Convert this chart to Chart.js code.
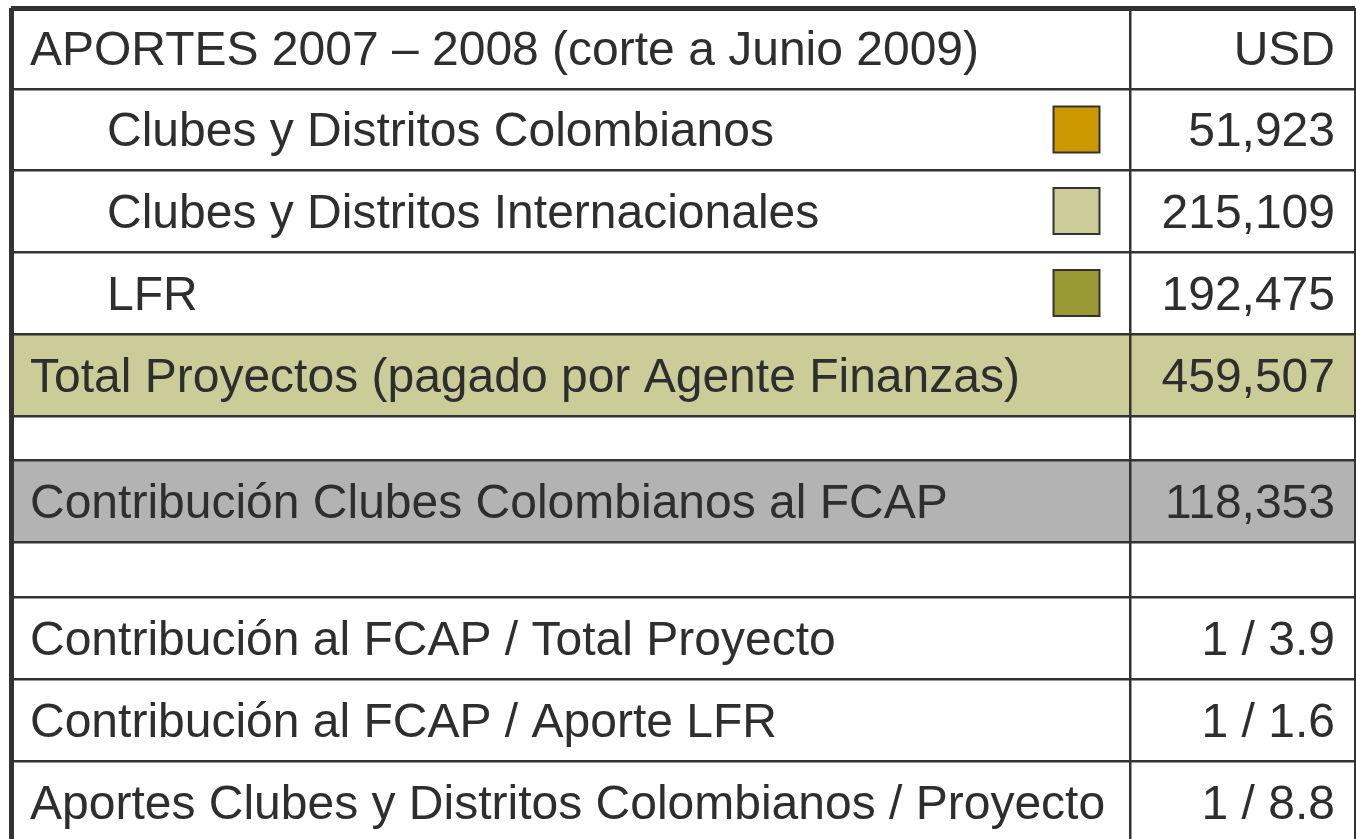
<!DOCTYPE html>
<html>
<head>
<meta charset="utf-8">
<script src="https://cdn.jsdelivr.net/npm/chart.js@4/dist/chart.umd.min.js"></script>
<style>
  html, body { margin: 0; padding: 0; background: #fff; }
  #wrap { width: 1356px; height: 839px; }
</style>
</head>
<body>
<div id="wrap"><canvas id="myChart" width="1356" height="839"></canvas></div>
<script>
// ---- data ----
const headerLabel = "APORTES 2007 \u2013 2008 (corte a Junio 2009)";
const headerUnit = "USD";
const sourceNames = [
  "Clubes y Distritos Colombianos",
  "Clubes y Distritos Internacionales",
  "LFR",
];
const sourceValues = [51923, 215109, 192475];
const totalLabel = "Total Proyectos (pagado por Agente Finanzas)";
const totalValue = 459507;
const fcapLabel = "Contribuci\u00f3n Clubes Colombianos al FCAP";
const fcapValue = 118353;
const ratioLabels = [
  "Contribuci\u00f3n al FCAP / Total Proyecto",
  "Contribuci\u00f3n al FCAP / Aporte LFR",
  "Aportes Clubes y Distritos Colombianos / Proyecto",
];
const ratioValues = [3.9, 1.6, 8.8];

// ---- styles ----
const sourceColors = ["#CC9900", "#CCCC99", "#999933"];
const textColor = "#2e2e2e";
const lineColor = "#333333";
const fontFamily = "'Liberation Sans', Arial, sans-serif";
const fontSize = 48;

const fmt = (v) => v.toLocaleString("en-US");

// table rows built from the arrays above
// kind: head | item | total | blank | fcap | ratio
const rows = [];
rows.push({ kind: "head", label: headerLabel, value: headerUnit, h: 81 });
sourceNames.forEach((name, i) => {
  rows.push({ kind: "item", label: name, value: fmt(sourceValues[i]), color: sourceColors[i], h: i === 0 ? 81 : 82 });
});
rows.push({ kind: "total", label: totalLabel, value: fmt(totalValue), fill: "#CCCC99", h: 82 });
rows.push({ kind: "blank", label: "", value: "", h: 44 });
rows.push({ kind: "fcap", label: fcapLabel, value: fmt(fcapValue), fill: "#B3B3B3", h: 82 });
rows.push({ kind: "blank", label: "", value: "", h: 55 });
ratioLabels.forEach((name, i) => {
  rows.push({ kind: "ratio", label: name, value: "1 / " + ratioValues[i].toFixed(1), h: 82 });
});

// row boundaries in y units
const bounds = [0];
rows.forEach((r) => bounds.push(bounds[bounds.length - 1] + r.h));
rows.forEach((r, i) => { r.y0 = bounds[i]; r.y1 = bounds[i + 1]; r.yc = (bounds[i] + bounds[i + 1]) / 2; });

const X_MAX = 1344;
const X_DIV = 1119;
const Y_MAX = 831;

const swatchPoints = rows
  .filter((r) => r.kind === "item")
  .map((r) => ({ x: 1065.5, y: r.yc, color: r.color }));

const tablePlugin = {
  id: "tablePlugin",
  beforeDraw(chart) {
    const { ctx, scales: { x, y } } = chart;
    ctx.save();
    rows.forEach((r) => {
      if (!r.fill) return;
      const top = y.getPixelForValue(r.y0);
      const bot = y.getPixelForValue(r.y1);
      ctx.fillStyle = r.fill;
      ctx.fillRect(x.getPixelForValue(0), top, x.getPixelForValue(X_MAX) - x.getPixelForValue(0), bot - top);
    });
    ctx.restore();
  },
  afterDraw(chart) {
    const { ctx, scales: { x, y } } = chart;
    ctx.save();
    ctx.font = fontSize + "px " + fontFamily;
    ctx.fillStyle = textColor;
    ctx.textBaseline = "alphabetic";
    rows.forEach((r) => {
      const base = y.getPixelForValue(r.yc) + fontSize * 0.35;
      ctx.textAlign = "left";
      const lx = r.kind === "item" ? 96 : 19;
      ctx.fillText(r.label, x.getPixelForValue(lx), base);
      ctx.textAlign = "right";
      ctx.fillText(r.value, x.getPixelForValue(X_MAX - 20), base);
    });
    ctx.restore();
  },
};

const ctx = document.getElementById("myChart").getContext("2d");

new Chart(ctx, {
  type: "scatter",
  data: {
    datasets: [
      {
        data: swatchPoints,
        pointStyle: "rect",
        pointRadius: 32.5,
        pointHoverRadius: 32.5,
        pointBackgroundColor: swatchPoints.map((p) => p.color),
        pointBorderColor: lineColor,
        pointBorderWidth: 2,
      },
    ],
  },
  options: {
    responsive: false,
    animation: false,
    devicePixelRatio: 1,
    layout: { autoPadding: false, padding: { top: 8, left: 11, right: 1, bottom: 0 } },
    plugins: {
      legend: { display: false },
      tooltip: { enabled: false },
    },
    events: [],
    scales: {
      x: {
        type: "linear",
        min: 0,
        max: X_MAX,
        afterBuildTicks: (axis) => {
          axis.ticks = [0, X_DIV, X_MAX].map((v) => ({ value: v }));
        },
        ticks: { display: false },
        border: { display: false },
        grid: {
          drawTicks: false,
          color: lineColor,
          lineWidth: (c) => (c.tick && c.tick.value === 0 ? 5 : c.tick && c.tick.value === X_MAX ? 3 : 2.5),
        },
      },
      y: {
        type: "linear",
        reverse: true,
        min: 0,
        max: Y_MAX,
        afterBuildTicks: (axis) => {
          axis.ticks = bounds.filter((v) => v <= Y_MAX).map((v) => ({ value: v }));
        },
        ticks: { display: false },
        border: { display: false },
        grid: {
          drawTicks: false,
          color: lineColor,
          lineWidth: (c) => (c.tick && c.tick.value === 0 ? 5 : 2.5),
        },
      },
    },
  },
  plugins: [tablePlugin],
});
</script>
</body>
</html>
